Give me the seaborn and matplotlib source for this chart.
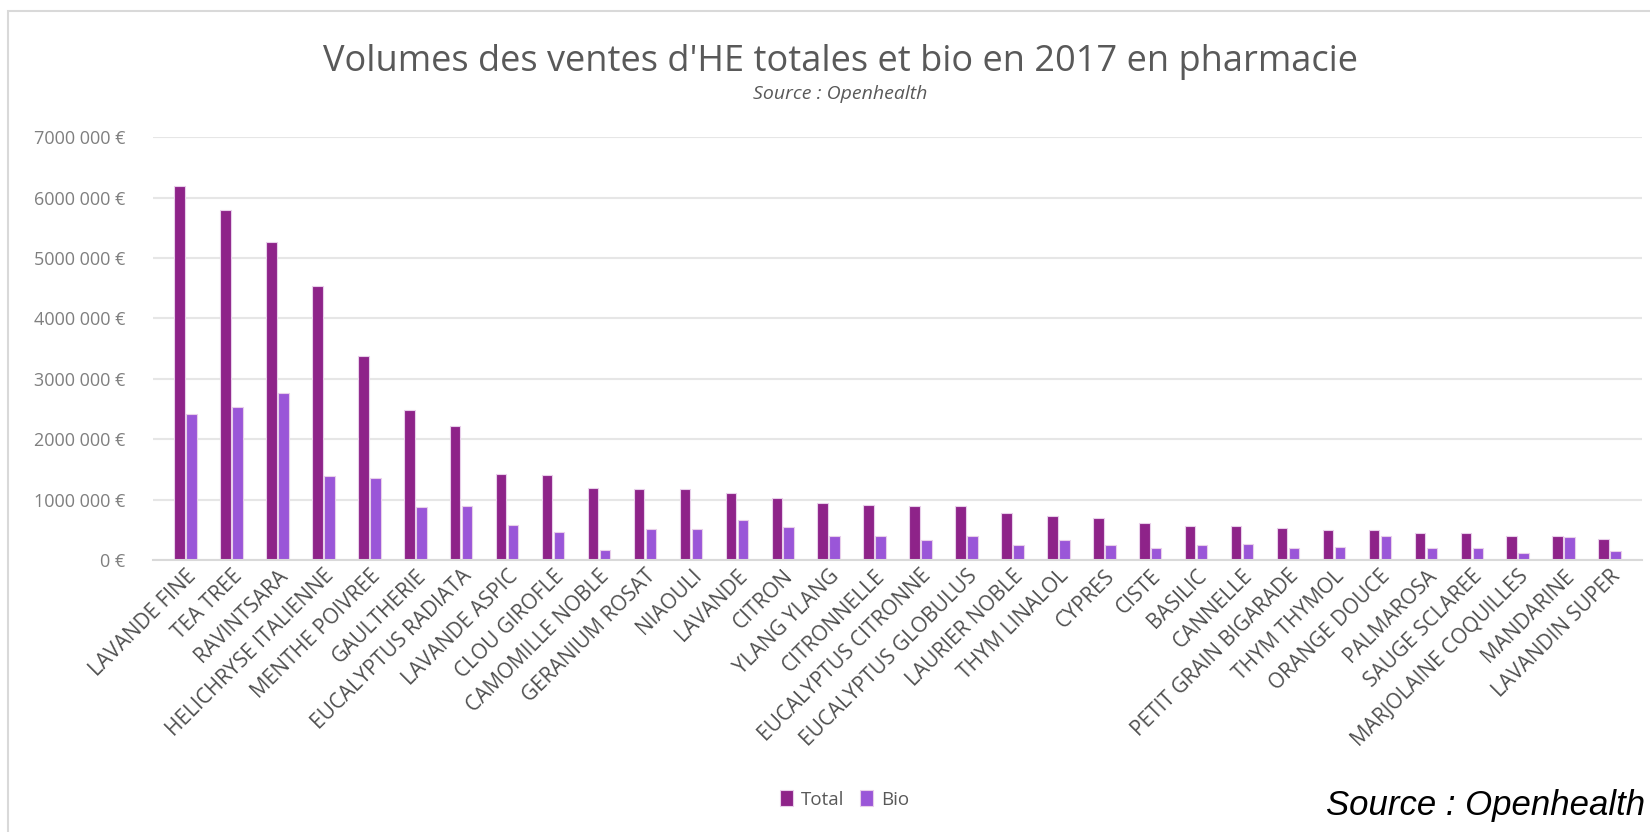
import pandas as pd
import matplotlib.pyplot as plt
import seaborn as sns
from matplotlib.patches import Rectangle

# Data
huiles = ["LAVANDE FINE", "TEA TREE", "RAVINTSARA", "HELICHRYSE ITALIENNE", "MENTHE POIVREE",
          "GAULTHERIE", "EUCALYPTUS RADIATA", "LAVANDE ASPIC", "CLOU GIROFLE", "CAMOMILLE NOBLE",
          "GERANIUM ROSAT", "NIAOULI", "LAVANDE", "CITRON", "YLANG YLANG", "CITRONNELLE",
          "EUCALYPTUS CITRONNE", "EUCALYPTUS GLOBULUS", "LAURIER NOBLE", "THYM LINALOL", "CYPRES",
          "CISTE", "BASILIC", "CANNELLE", "PETIT GRAIN BIGARADE", "THYM THYMOL", "ORANGE DOUCE",
          "PALMAROSA", "SAUGE SCLAREE", "MARJOLAINE COQUILLES", "MANDARINE", "LAVANDIN SUPER"]
total = [6200000, 5790000, 5270000, 4540000, 3370000, 2480000, 2220000, 1420000, 1410000, 1190000,
         1180000, 1170000, 1110000, 1030000, 940000, 910000, 900000, 890000, 780000, 730000, 700000,
         620000, 570000, 560000, 530000, 500000, 490000, 450000, 450000, 390000, 390000, 350000]
bio = [2420000, 2530000, 2770000, 1390000, 1360000, 870000, 900000, 585000, 460000, 170000,
       510000, 520000, 660000, 540000, 400000, 390000, 330000, 390000, 250000, 330000, 245000,
       190000, 240000, 260000, 190000, 220000, 390000, 200000, 200000, 110000, 380000, 140000]

yticks = list(range(0, 7000001, 1000000))
ylabels = ["0 €", "1000 000 €", "2000 000 €", "3000 000 €", "4000 000 €",
           "5000 000 €", "6000 000 €", "7000 000 €"]

df = pd.DataFrame({"huile": huiles * 2,
                   "serie": ["Total"] * len(huiles) + ["Bio"] * len(huiles),
                   "ventes": total + bio})

sns.set_style("white")
plt.rcParams['font.family'] = ['Open Sans', 'DejaVu Sans']

fig = plt.figure(figsize=(16.5, 8.32), dpi=100)
ax = fig.add_axes([0.093, 0.327, 0.902, 0.508])

# outer chart frame
fig.patches.append(Rectangle((0.005, -0.1), 1.1, 1.087, transform=fig.transFigure,
                             fill=False, edgecolor="#D9D9D9", linewidth=1.5))

sns.barplot(data=df, x="huile", y="ventes", hue="serie", ax=ax,
            palette={"Total": "#8E2389", "Bio": "#9A56D8"}, saturation=1,
            width=0.52, gap=0.12, edgecolor="#E8CFEA", linewidth=0.8, legend=True)

ax.set_ylim(0, 7000000)
ax.set_xlim(-0.7, len(huiles) - 0.3)
ax.set_yticks(yticks)
ax.set_yticklabels(ylabels)
ax.yaxis.grid(True, color="#E6E6E6", linewidth=1.5)
ax.set_axisbelow(True)
for s in ["top", "right", "left"]:
    ax.spines[s].set_visible(False)
ax.spines["bottom"].set_color("#D9D9D9")
ax.spines["bottom"].set_linewidth(1.5)
ax.tick_params(axis="y", length=0, pad=20, labelsize=13, labelcolor="#7F7F7F")
ax.tick_params(axis="x", length=0, pad=4, labelsize=15, labelcolor="#505050")
plt.setp(ax.get_xticklabels(), rotation=45, ha="right", rotation_mode="anchor")
ax.set_xlabel("")
ax.set_ylabel("")

fig.text(0.5095, 0.926, "Volumes des ventes d'HE totales et bio en 2017 en pharmacie",
         ha="center", va="center", fontsize=26, color="#595959")
fig.text(0.509, 0.887, "Source : Openhealth", ha="center", va="center",
         fontsize=14, style="italic", color="#595959")

leg = ax.legend(loc="center", bbox_to_anchor=(0.512, 0.039), bbox_transform=fig.transFigure,
                ncol=2, frameon=False, fontsize=13.5, handlelength=0.65, handleheight=0.9,
                handletextpad=0.45, columnspacing=0.85)
for t in leg.get_texts():
    t.set_color("#595959")

fig.text(0.997, 0.032, "Source : Openhealth", ha="right", va="center", fontsize=25,
         style="italic", family="Liberation Sans", color="black")

fig.savefig("out.png", dpi=100)
